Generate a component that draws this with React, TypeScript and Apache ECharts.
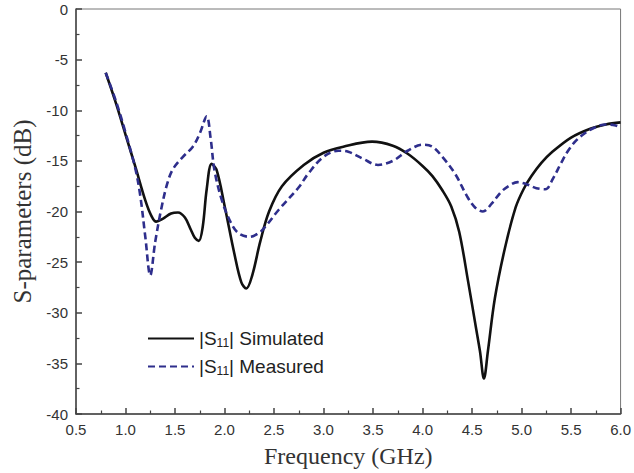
import React, { useEffect, useRef } from "react";
import * as echarts from "echarts";

const simFreq = [0.8, 0.9, 1.0, 1.1, 1.2, 1.26, 1.31, 1.38, 1.46, 1.53, 1.6, 1.66, 1.7, 1.74, 1.78, 1.82, 1.87, 1.92, 2.0, 2.1, 2.17, 2.22, 2.28, 2.36, 2.45, 2.58, 2.8, 3.0, 3.2, 3.49, 3.7, 3.85, 4.0, 4.1, 4.2, 4.29, 4.37, 4.46, 4.54, 4.58, 4.62, 4.66, 4.73, 4.83, 4.94, 5.02, 5.1, 5.2, 5.3, 5.5, 5.7, 5.85, 6.0];
const simDb = [-6.3, -9.2, -12.4, -15.6, -18.9, -20.4, -21.0, -20.7, -20.2, -20.1, -20.6, -21.8, -22.6, -22.9, -21.5, -17.8, -15.3, -15.9, -19.4, -24.2, -27.0, -27.6, -26.3, -23.0, -20.0, -17.5, -15.4, -14.2, -13.6, -13.1, -13.5, -14.3, -15.5, -16.5, -17.9, -19.5, -22.0, -26.9, -31.5, -33.8, -36.5, -33.8, -28.6, -23.7, -19.6, -17.8, -16.5, -15.2, -14.2, -12.7, -11.8, -11.4, -11.2];

const measFreq = [0.8, 0.9, 1.0, 1.1, 1.15, 1.2, 1.25, 1.3, 1.36, 1.42, 1.48, 1.58, 1.68, 1.75, 1.82, 1.86, 1.9, 1.98, 2.08, 2.15, 2.25, 2.35, 2.42, 2.55, 2.75, 2.85, 3.0, 3.15, 3.25, 3.4, 3.55, 3.7, 3.85, 4.0, 4.1, 4.2, 4.33, 4.45, 4.53, 4.61, 4.7, 4.8, 4.9, 4.96, 5.05, 5.15, 5.24, 5.32, 5.4, 5.47, 5.55, 5.65, 5.74, 5.85, 5.95, 6.0];
const measDb = [-6.3, -9.0, -12.2, -15.8, -18.5, -22.5, -26.3, -23.0, -19.8, -17.3, -15.8, -14.6, -13.6, -12.3, -10.6, -12.8, -16.0, -19.1, -21.4, -22.2, -22.5, -22.1, -21.4, -19.8, -17.6, -16.2, -14.6, -14.0, -14.1, -14.8, -15.4, -15.0, -14.0, -13.4, -13.6, -14.6, -16.3, -18.5, -19.6, -20.0, -19.2, -18.0, -17.3, -17.1, -17.3, -17.7, -17.8, -16.7, -15.2, -14.0, -13.0, -12.2, -11.7, -11.4, -11.5, -11.7];

const seriesNames = ["|S{s|11}| Simulated", "|S{s|11}| Measured"];

export default function App() {
  const ref = useRef<HTMLDivElement>(null);
  useEffect(() => {
    if (!ref.current) return;
    const chart = echarts.init(ref.current, undefined, { renderer: "svg" });
    const axisColor = "#444";
    const sans = "Liberation Sans, Arial, sans-serif";
    const serif = "Liberation Serif, Times New Roman, serif";
    const labelStyle = { color: "#333", fontSize: 15, fontFamily: sans };
    chart.setOption({
      animation: false,
      backgroundColor: "#fff",
      grid: { left: 76, right: 11, top: 9, bottom: 57, show: true, borderColor: "#777", borderWidth: 1 },
      legend: {
        orient: "vertical",
        left: 142,
        top: 321,
        itemWidth: 46,
        itemHeight: 14,
        itemGap: 5,
        itemStyle: { opacity: 0, borderWidth: 0 },
        formatter: (n: string) => n,
        textStyle: {
          color: "#222",
          fontSize: 19,
          lineHeight: 21,
          fontFamily: sans,
          rich: {
            s: { fontSize: 12, lineHeight: 21, verticalAlign: "bottom", padding: [11, 0, 0, 0], color: "#222", fontFamily: sans },
          },
        },
        data: seriesNames,
      },
      xAxis: {
        type: "value",
        min: 0.5,
        max: 6,
        interval: 0.5,
        name: "Frequency (GHz)",
        nameLocation: "middle",
        nameGap: 30,
        nameTextStyle: { fontSize: 24, color: "#333", fontFamily: serif },
        axisLine: { show: true, onZero: false, lineStyle: { color: axisColor, width: 1.5 } },
        axisTick: { show: true, inside: true, length: 6, lineStyle: { color: axisColor, width: 1.5 } },
        minorTick: { show: true, splitNumber: 2, length: 3.5, lineStyle: { color: axisColor, width: 1.2 } },
        axisLabel: { ...labelStyle, margin: 8, formatter: (v: number) => v.toFixed(1) },
        splitLine: { show: false },
      },
      yAxis: {
        type: "value",
        min: -40,
        max: 0,
        interval: 5,
        name: "S-parameters (dB)",
        nameLocation: "middle",
        nameGap: 38,
        nameTextStyle: { fontSize: 25, color: "#333", fontFamily: serif },
        axisLine: { show: true, onZero: false, lineStyle: { color: axisColor, width: 1.5 } },
        axisTick: { show: true, inside: true, length: 6, lineStyle: { color: axisColor, width: 1.5 } },
        minorTick: { show: true, splitNumber: 2, length: 3.5, lineStyle: { color: axisColor, width: 1.2 } },
        axisLabel: { ...labelStyle, margin: 8 },
        splitLine: { show: false },
      },
      series: [
        {
          name: seriesNames[0],
          type: "line",
          symbol: "none",
          smooth: 0.35,
          data: simFreq.map((f, i) => [f, simDb[i]]),
          lineStyle: { color: "#111", width: 2.6, type: "solid" },
          itemStyle: { color: "#111" },
          z: 3,
        },
        {
          name: seriesNames[1],
          type: "line",
          symbol: "none",
          smooth: 0.35,
          data: measFreq.map((f, i) => [f, measDb[i]]),
          lineStyle: { color: "#2e2e8c", width: 2.6, type: [7, 4] },
          itemStyle: { color: "#2e2e8c" },
          z: 4,
        },
      ],
    });
    return () => chart.dispose();
  }, []);
  return <div ref={ref} style={{ position: "fixed", left: 0, top: 0, width: 634, height: 473 }} />;
}
